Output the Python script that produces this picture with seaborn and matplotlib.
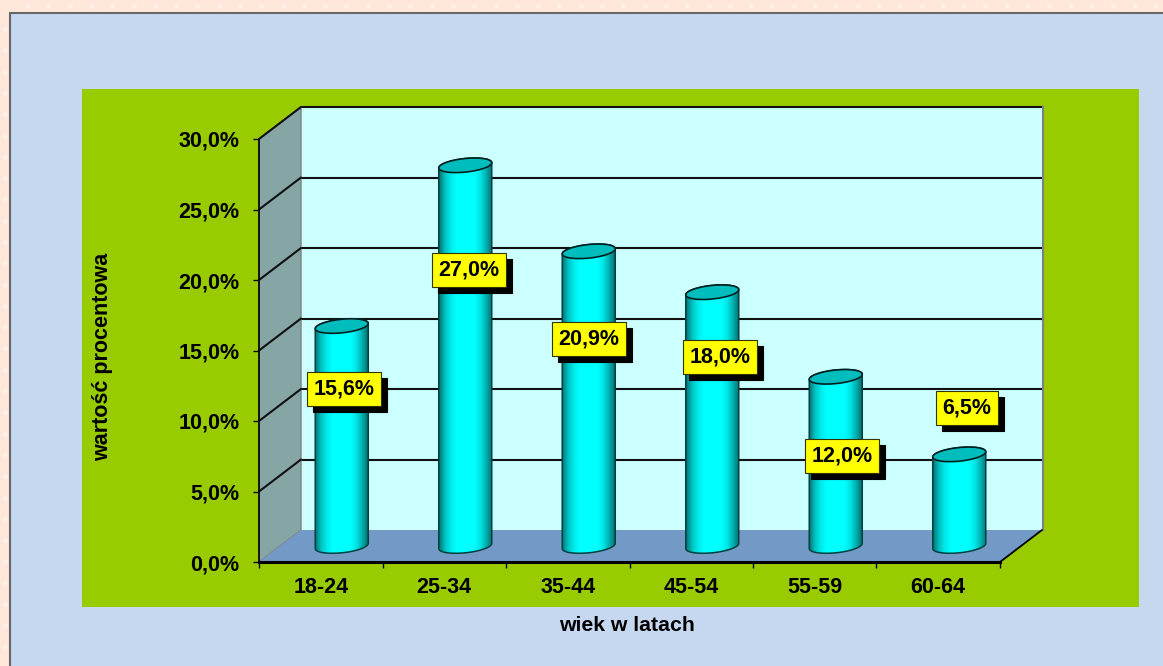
import numpy as np
import matplotlib
matplotlib.use('Agg')
import matplotlib.pyplot as plt
from matplotlib.patches import Polygon, Rectangle
import seaborn as sns

# chart values
age_groups = ['18-24', '25-34', '35-44', '45-54', '55-59', '60-64']
percent = [15.6, 27.0, 20.9, 18.0, 12.0, 6.5]
value_labels = ['15,6%', '27,0%', '20,9%', '18,0%', '12,0%', '6,5%']
y_ticks = [0, 5, 10, 15, 20, 25, 30]
y_tick_labels = ['0,0%', '5,0%', '10,0%', '15,0%', '20,0%', '25,0%', '30,0%']
# where the yellow labels sit (in category / percent units)
label_x = [0.02, 0.03, 0.0, 0.06, 0.05, 0.06]
label_y = [11.15, 19.6, 14.7, 13.4, 6.4, 9.8]

W, H = 1163, 666
PEACH = '#FFE8D9'
BLUE = '#C6D8F0'
GREEN = '#99CC00'
WALL = '#CCFFFF'
SIDE = '#86A5A5'
FLOOR = '#7399C6'
DARK = '#004040'

sns.set_theme(style='white')
plt.rcParams['font.family'] = ['Liberation Sans', 'DejaVu Sans']
plt.rcParams['font.weight'] = 'bold'
FS = 15.5


def box(l, t, r, b, **kw):
    return fig.add_axes([l / W, 1 - b / H, (r - l) / W, (b - t) / H], **kw)


fig = plt.figure(figsize=(W / 100, H / 100), dpi=100, facecolor=PEACH)

# page background
bg = box(0, 0, W, H, zorder=0)
bg.set_xlim(0, W)
bg.set_ylim(H, 0)
bg.axis('off')
dots_x = np.arange(27, W, 21.3)
dots_y = np.arange(29, H, 21.3)
bg.scatter(dots_x, np.full(len(dots_x), 6), s=9, color='#FFF4EC', linewidths=0)
bg.scatter(np.full(len(dots_y), 5), dots_y, s=9, color='#FFF4EC', linewidths=0)
bg.add_patch(Rectangle((10, 12.5), W, H, fc=BLUE, ec='#666666', lw=1.5))
bg.add_patch(Rectangle((82, 89), 1057, 518, fc=GREEN, ec='none'))

# back wall, front axis and bars each get an axes with the same scale
back = box(301, 107, 1043, 530, zorder=1)
front = box(259, 139, 1000, 562, zorder=2)
px_per_pct = 423 / 30
mid = box(280, 123, 1021, 546 + 2 * px_per_pct, zorder=3)
depth_x = 42 / 123.5
depth_y = 32 / 14.1

back.set_facecolor(WALL)
back.set_xlim(-0.5, 5.5)
back.set_ylim(0, 30)
back.set_xticks([])
back.set_yticks([])
for s in back.spines.values():
    s.set_visible(False)
back.spines['right'].set_visible(True)
back.spines['right'].set_color('#808080')
back.spines['right'].set_linewidth(1.5)
for v in y_ticks[1:]:
    back.axhline(v, color='#111111', lw=1.5, clip_on=False)

front.patch.set_alpha(0)
front.set_xlim(-0.5, 5.5)
front.set_ylim(0, 30)
front.add_patch(Polygon([(-0.5, 0), (-0.5, 30), (-0.5 + depth_x, 30 + depth_y), (-0.5 + depth_x, depth_y)],
                        fc=SIDE, ec='#808080', lw=1, clip_on=False))
front.add_patch(Polygon([(-0.5, 0), (5.5, 0), (5.5 + depth_x, depth_y), (-0.5 + depth_x, depth_y)],
                        fc=FLOOR, ec='none', clip_on=False))
front.plot([5.5, 5.5 + depth_x], [0, depth_y], color='black', lw=1.3, clip_on=False)
for v in y_ticks[1:]:
    front.plot([-0.5, -0.5 + depth_x], [v, v + depth_y], color='#111111', lw=1.5, clip_on=False)
for s in ['top', 'right']:
    front.spines[s].set_visible(False)
front.spines['left'].set_color('black')
front.spines['left'].set_linewidth(1.2)
front.spines['bottom'].set_color('black')
front.spines['bottom'].set_linewidth(2.2)
front.set_yticks(y_ticks)
front.set_yticklabels(y_tick_labels, fontsize=FS, fontweight='bold', color='black')
front.set_xticks(np.arange(-0.5, 6, 1))
front.set_xticklabels([])
front.set_xticks(np.arange(6), minor=True)
front.set_xticklabels(age_groups, minor=True, fontsize=FS, fontweight='bold', color='black')
front.tick_params(axis='x', which='major', length=4.5, width=1, color='black', bottom=True)
front.tick_params(axis='x', which='minor', length=0, pad=11)
front.tick_params(axis='y', length=4, width=1, color='black', left=True, pad=10)
front.set_xlabel('wiek w latach', fontsize=15.3, fontweight='bold', color='black')
front.xaxis.set_label_coords((627 - 259) / 741, -(616 - 562) / 423, front.transAxes)
front.set_ylabel('wartość procentowa', fontsize=15.5, fontweight='bold', color='black')
front.yaxis.set_label_coords((113 - 259) / 741, (562 - 357) / 423, front.transAxes)

# bars, turned into cylinders below
sns.barplot(x=age_groups, y=percent, ax=mid, color='#00FFFF', width=53 / 123.5, saturation=1)
mid.patch.set_alpha(0)
mid.axis('off')

shade = np.array([0.0, 0.55, 0.85, 1.0, 1.0, 1.0, 1.0, 0.82, 0.45, 0.0])
shade = np.interp(np.linspace(0, 9, 120), np.arange(10), shade)
grad = np.zeros((1, 120, 3))
grad[..., 1] = 0.45 + 0.55 * shade
grad[..., 2] = 0.45 + 0.55 * shade

half_h = 6.8 / 14.1
tilt = 2.6 / 14.1
for bar in list(mid.patches):
    x0, w, h = bar.get_x(), bar.get_width(), bar.get_height()
    cx = x0 + w / 2
    t_low = np.linspace(np.pi, 2 * np.pi, 40)
    t_up = np.linspace(0, np.pi, 40)
    t_all = np.linspace(0, 2 * np.pi, 80)
    lower = np.c_[cx + w / 2 * np.cos(t_low), half_h * np.sin(t_low) + tilt * np.cos(t_low)]
    upper = np.c_[cx + w / 2 * np.cos(t_up), h + half_h * np.sin(t_up) + tilt * np.cos(t_up)]
    body = Polygon(np.r_[lower, upper], closed=True, fc='none', ec=DARK, lw=1.1, zorder=4, clip_on=False)
    mid.add_patch(body)
    bar.set_clip_path(body)
    im = mid.imshow(grad, extent=(x0, x0 + w, -2, h + 2), aspect='auto', zorder=3, interpolation='bilinear')
    im.set_clip_path(body)
    top = np.c_[cx + w / 2 * np.cos(t_all), h + half_h * np.sin(t_all) + tilt * np.cos(t_all)]
    mid.add_patch(Polygon(top, closed=True, fc='#00BDBD', ec='#002020', lw=1.2, zorder=5, clip_on=False))
mid.set_xlim(-0.5, 5.5)
mid.set_ylim(-2, 30)

# yellow value labels with hard black shadow
for i, txt in enumerate(value_labels):
    xy = (i + label_x[i], label_y[i])
    mid.annotate(txt, xy, xytext=(4.3, -4.3), textcoords='offset points', ha='center', va='center',
                 fontsize=FS, fontweight='bold', color='black', zorder=6, annotation_clip=False,
                 bbox=dict(boxstyle='square,pad=0.3', fc='black', ec='black', lw=0.8))
    mid.annotate(txt, xy, ha='center', va='center', fontsize=FS, fontweight='bold', color='black',
                 zorder=7, annotation_clip=False,
                 bbox=dict(boxstyle='square,pad=0.3', fc='#FFFF00', ec='#333300', lw=0.8))

fig.savefig('out.png', dpi=100, facecolor=PEACH)
